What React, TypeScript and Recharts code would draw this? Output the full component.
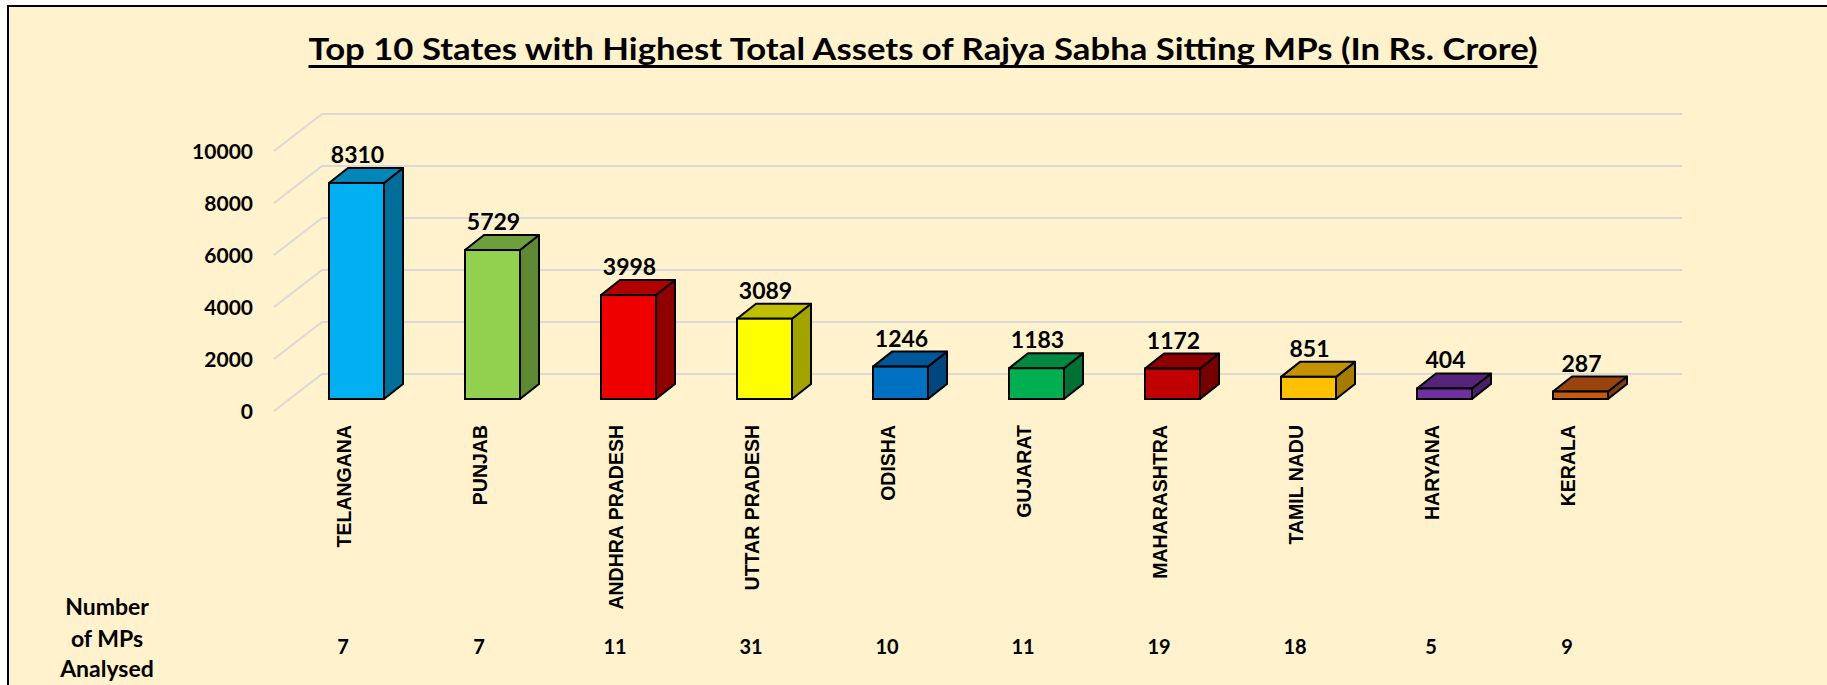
import React from "react";
import { BarChart, Bar, XAxis, YAxis, CartesianGrid, LabelList } from "recharts";

const states = ["TELANGANA", "PUNJAB", "ANDHRA PRADESH", "UTTAR PRADESH", "ODISHA", "GUJARAT", "MAHARASHTRA", "TAMIL NADU", "HARYANA", "KERALA"];
const assets = [8310, 5729, 3998, 3089, 1246, 1183, 1172, 851, 404, 287];
const mpsAnalysed = [7, 7, 11, 31, 10, 11, 19, 18, 5, 9];
const yTicks = [0, 2000, 4000, 6000, 8000, 10000];

const frontColors = ["#00B0F0", "#92D050", "#EE0000", "#FFFF00", "#0070C0", "#00B050", "#C00000", "#FFC000", "#7030A0", "#C55A11"];
const topColors = ["#0086B8", "#6F9E3D", "#B00000", "#BFBF00", "#00569A", "#00883E", "#8E0000", "#C29200", "#55247A", "#98440C"];
const sideColors = ["#006E98", "#5E8833", "#8E0000", "#A3A300", "#00477F", "#007033", "#760000", "#A57C00", "#472065", "#803A0B"];

const data = states.map((s, i) => ({ state: s, assets: assets[i], mps: mpsAnalysed[i] }));

const W = 1818;
const H = 678;
const DX = 19;
const DY = 15;
const GRID = "#D9D9D9";

const Box3D = (props: any) => {
  const { x, y, width, height, index } = props;
  const fc = frontColors[index];
  const tc = topColors[index];
  const sc = sideColors[index];
  const top = `${x},${y} ${x + DX},${y - DY} ${x + width + DX},${y - DY} ${x + width},${y}`;
  const side = `${x + width},${y} ${x + width + DX},${y - DY} ${x + width + DX},${y + height - DY} ${x + width},${y + height}`;
  return (
    <g>
      <polygon points={side} fill={sc} stroke="#000" strokeWidth={2} strokeLinejoin="round" />
      <polygon points={top} fill={tc} stroke="#000" strokeWidth={2} strokeLinejoin="round" />
      <rect x={x} y={y} width={width} height={height} fill={fc} stroke="#000" strokeWidth={2} />
    </g>
  );
};

const GridLine = (props: any) => {
  const { x1, x2, y1 } = props;
  const pts = `${x1 - 14},${y1 + 12} ${x1 + 34},${y1 - 25} ${x2 + 34},${y1 - 25}`;
  return <polyline key={props.key} points={pts} fill="none" stroke={GRID} strokeWidth={2} />;
};

const YTick = (props: any) => {
  const { y, payload } = props;
  return (
    <text x={244} y={y + 19.5} textAnchor="end" fontFamily="Lato" fontWeight={700} fontSize={21} fill="#000">
      {payload.value}
    </text>
  );
};

const XTick = (props: any) => {
  const { x, payload } = props;
  const idx = states.indexOf(payload.value);
  return (
    <g>
      <text
        transform={`translate(${x - 5},418) rotate(-90)`}
        textAnchor="end"
        fontFamily="Liberation Sans"
        fontWeight={700}
        fontSize={19.5}
        fill="#000"
      >
        {payload.value}
      </text>
      <text x={x - 13} y={647} textAnchor="middle" fontFamily="Lato" fontWeight={700} fontSize={20} fill="#000">
        {mpsAnalysed[idx]}
      </text>
    </g>
  );
};

const ValueLabel = (props: any) => {
  const { x, y, width, value } = props;
  return (
    <text x={x + width / 2 + 1} y={y - 20} textAnchor="middle" fontFamily="Lato" fontWeight={700} fontSize={23} fill="#000">
      {value}
    </text>
  );
};

export default function App() {
  const titleCx = 914;
  const titleW = 1229;
  return (
    <div style={{ position: "absolute", left: 0, top: 0, width: 1827, height: 685, background: "#fff", overflow: "hidden" }}>
      <style>{`body{margin:0;overflow:hidden}`}</style>
      <div
        style={{
          position: "absolute",
          left: 7,
          top: 5,
          width: 1820,
          height: 680,
          background: "#FFF2CC",
          borderLeft: "2px solid #000",
          borderTop: "2px solid #000",
          boxSizing: "border-box",
        }}
      >
        <BarChart width={W} height={H} data={data} margin={{ top: 132, right: 179, bottom: 6, left: 219 }}>
          <CartesianGrid horizontal={GridLine} vertical={false} />
          <XAxis dataKey="state" interval={0} height={280} axisLine={false} tickLine={false} tick={<XTick />} />
          <YAxis
            domain={[0, 10000]}
            ticks={yTicks}
            width={60}
            axisLine={false}
            tickLine={false}
            tick={<YTick />}
            interval={0}
          />
          <Bar dataKey="assets" barSize={55} shape={<Box3D />} isAnimationActive={false}>
            <LabelList dataKey="assets" content={<ValueLabel />} />
          </Bar>
        </BarChart>
        <svg width={W} height={H} style={{ position: "absolute", left: 0, top: 0, pointerEvents: "none" }}>
          <text
            x={titleCx}
            y={53}
            textAnchor="middle"
            fontFamily="Lato"
            fontWeight={700}
            fontSize={30.5}
            fill="#000"
            textLength={titleW}
            lengthAdjust="spacingAndGlyphs"
          >
            Top 10 States with Highest Total Assets of Rajya Sabha Sitting MPs (In Rs. Crore)
          </text>
          <rect x={titleCx - titleW / 2} y={58} width={titleW} height={3} fill="#000" />
          <g fontFamily="Lato" fontWeight={700} fontSize={23} fill="#000" textAnchor="middle">
            <text x={98} y={608}>Number</text>
            <text x={98} y={640}>of MPs</text>
            <text x={98} y={670}>Analysed</text>
          </g>
        </svg>
      </div>
    </div>
  );
}
